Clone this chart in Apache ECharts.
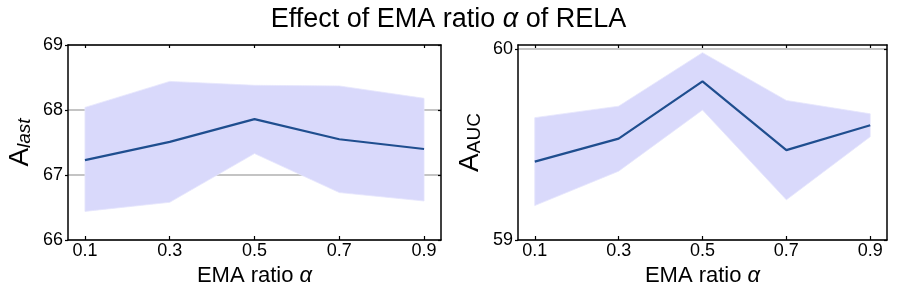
<!DOCTYPE html>
<html><head><meta charset="utf-8">
<script src="https://cdn.jsdelivr.net/npm/echarts@6/dist/echarts.min.js"></script>
<style>html,body{margin:0;padding:0;background:#fff}#c{width:897px;height:299px}</style>
</head><body><div id="c"></div>
<script>
const alphas = [0.1, 0.3, 0.5, 0.7, 0.9];
const xTickLabels = ['0.1', '0.3', '0.5', '0.7', '0.9'];
const lastMean  = [67.23, 67.51, 67.86, 67.55, 67.40];
const lastUpper = [68.04, 68.44, 68.38, 68.37, 68.18];
const lastLower = [66.44, 66.58, 67.33, 66.73, 66.60];
const aucMean  = [59.41, 59.53, 59.83, 59.47, 59.60];
const aucUpper = [59.64, 59.70, 59.98, 59.73, 59.66];
const aucLower = [59.18, 59.36, 59.68, 59.21, 59.54];
const lastTicks = [66, 67, 68, 69];
const aucTicks = [59, 60];

const FONT = 'Liberation Sans';
const LINE = '#1f4e8f';
const BAND = '#d9d9fb';
const GRIDC = '#b0b0b0';

function xAxes(g) {
  const base = {gridIndex: g, type: 'value', min: 0.06, max: 0.94,
    axisLine: {show: true, onZero: false, lineStyle: {color: '#000', width: 1.5}},
    splitLine: {show: false}};
  return [
    Object.assign({}, base, {position: 'bottom',
      axisTick: {show: true, inside: true, length: 4, customValues: alphas, lineStyle: {color: '#000', width: 1.2}},
      axisLabel: {show: true, customValues: alphas, formatter: v => xTickLabels[alphas.findIndex(a => Math.abs(a - v) < 1e-6)] || '',
        fontFamily: FONT, fontSize: 18, color: '#000', margin: 2},
      name: 'EMA ratio {i|α}', nameLocation: 'middle', nameGap: 23,
      nameTextStyle: {fontFamily: FONT, fontSize: 22, color: '#000', rich: {i: {fontFamily: FONT, fontSize: 22, fontStyle: 'italic', color: '#000'}}}}),
    Object.assign({}, base, {position: 'top',
      axisTick: {show: true, inside: true, length: 3, customValues: alphas, lineStyle: {color: '#000', width: 1.2}},
      axisLabel: {show: false}})
  ];
}

function yAxes(g, mn, mx, ticks, sub, subItalic) {
  const base = {gridIndex: g, type: 'value', min: mn, max: mx, interval: 1,
    axisLine: {show: true, onZero: false, lineStyle: {color: '#000', width: 1.5}}};
  return [
    Object.assign({}, base, {position: 'left',
      axisTick: {show: true, inside: false, length: 3, customValues: ticks, lineStyle: {color: '#000', width: 1.2}},
      axisLabel: {show: true, customValues: ticks, fontFamily: FONT, fontSize: 18, color: '#000', margin: 5},
      splitLine: {show: true, lineStyle: {color: GRIDC, width: 1.5}},
      name: '{a|A}{s|' + sub + '}', nameLocation: 'middle', nameGap: 34, nameRotate: 90,
      nameTextStyle: {rich: {
        a: {fontFamily: FONT, fontSize: 28, color: '#000', verticalAlign: 'bottom', lineHeight: 32},
        s: {fontFamily: FONT, fontSize: 19, fontStyle: subItalic ? 'italic' : 'normal', color: '#000', verticalAlign: 'bottom', lineHeight: 19}
      }}}),
    Object.assign({}, base, {position: 'right',
      axisTick: {show: true, inside: true, length: 3, customValues: ticks, lineStyle: {color: '#000', width: 1.2}},
      axisLabel: {show: false}, splitLine: {show: false}})
  ];
}

function band(xi, yi, lo, hi) {
  return {type: 'custom', xAxisIndex: xi, yAxisIndex: yi, silent: true, z: 1,
    data: alphas.map((x, i) => [x, lo[i], hi[i]]),
    encode: {x: 0, y: [1, 2]},
    renderItem(params, api) {
      if (params.dataIndex !== 0) return null;
      const pts = [];
      for (let i = 0; i < alphas.length; i++) pts.push(api.coord([alphas[i], hi[i]]));
      for (let i = alphas.length - 1; i >= 0; i--) pts.push(api.coord([alphas[i], lo[i]]));
      return {type: 'polygon', shape: {points: pts}, style: {fill: BAND, stroke: '#e6e6fc', lineWidth: 0.8}};
    }};
}

function line(xi, yi, vals) {
  return {type: 'line', xAxisIndex: xi, yAxisIndex: yi, z: 5, symbol: 'none', silent: true,
    data: alphas.map((x, i) => [x, vals[i]]),
    lineStyle: {color: LINE, width: 2.2}};
}

const chart = echarts.init(document.getElementById('c'), null, {renderer: 'canvas'});
chart.setOption({
  animation: false,
  backgroundColor: '#fff',
  title: {text: 'Effect of EMA ratio {i|α} of RELA', left: 'center', top: 1,
    textStyle: {fontFamily: FONT, fontSize: 27, fontWeight: 'normal', color: '#000',
      rich: {i: {fontFamily: FONT, fontSize: 27, fontStyle: 'italic', color: '#000'}}}},
  grid: [
    {left: 68, right: 456, top: 45, bottom: 59},
    {left: 518, right: 10, top: 45, bottom: 59}
  ],
  xAxis: [...xAxes(0), ...xAxes(1)],
  yAxis: [...yAxes(0, 66, 69, lastTicks, 'last', true), ...yAxes(1, 59, 60.02, aucTicks, 'AUC', false)],
  series: [
    band(0, 0, lastLower, lastUpper),
    line(0, 0, lastMean),
    band(2, 2, aucLower, aucUpper),
    line(2, 2, aucMean)
  ]
});
</script>
</body></html>
